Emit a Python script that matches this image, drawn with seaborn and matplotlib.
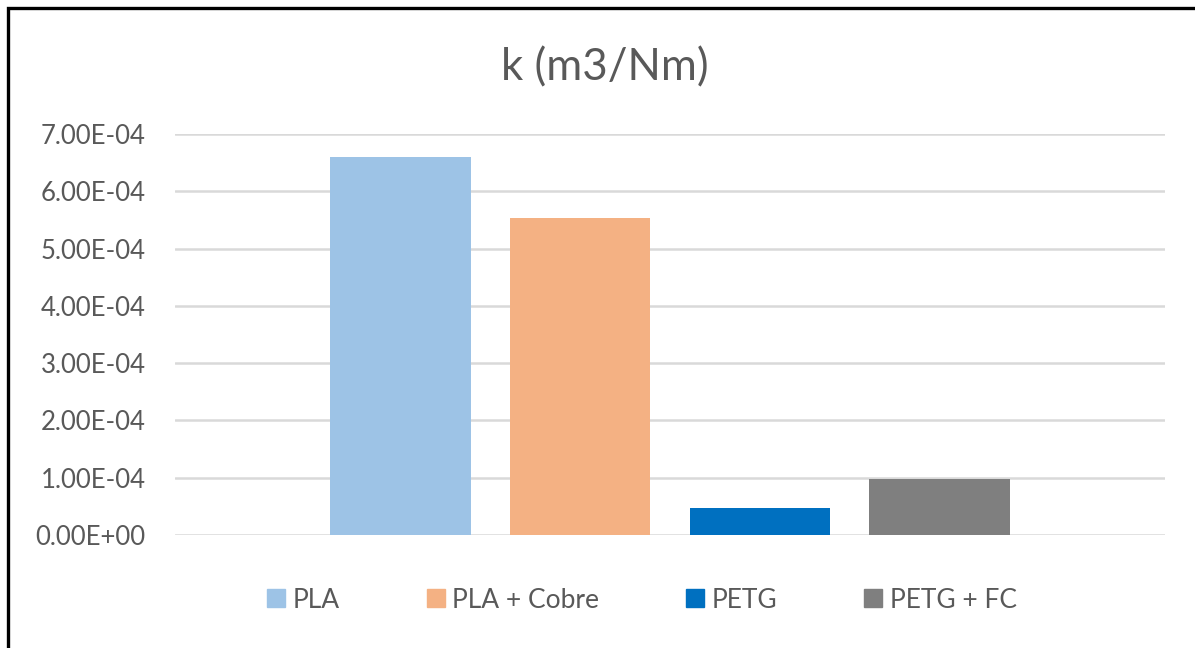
import matplotlib
matplotlib.use("Agg")
import matplotlib.pyplot as plt
from matplotlib.patches import Rectangle
from matplotlib.ticker import FuncFormatter, MultipleLocator
import seaborn as sns
import pandas as pd

# Wear coefficient per material
materials = ["PLA", "PLA + Cobre", "PETG", "PETG + FC"]
k_values = [6.60e-4, 5.53e-4, 0.47e-4, 0.98e-4]
colors = ["#9DC3E6", "#F4B183", "#0070C0", "#7F7F7F"]
title = "k (m3/Nm)"

df = pd.DataFrame({"grupo": ["k"] * len(materials), "material": materials, "k": k_values})

sns.set_theme(style="white")
plt.rcParams["font.family"] = ["Lato", "DejaVu Sans"]
text_color = "#595959"

fig = plt.figure(figsize=(11.95, 6.48), dpi=100)
ax = fig.add_axes([175 / 1195, 1 - 535 / 648, 990 / 1195, (535 - 134) / 648])

sns.barplot(data=df, x="grupo", y="k", hue="material", hue_order=materials,
            palette=colors, width=0.726, gap=0.22, saturation=1, ax=ax,
            legend=False, linewidth=0)

ax.set_xlim(-0.5, 0.5)
ax.set_ylim(0, 7e-4)
ax.yaxis.set_major_locator(MultipleLocator(1e-4))
ax.yaxis.set_major_formatter(FuncFormatter(lambda v, _: f"{v:.2E}"))
ax.set_xticks([])
ax.set_xlabel("")
ax.set_ylabel("")
ax.grid(axis="y", color="#D9D9D9", linewidth=1.8)
ax.set_axisbelow(True)
for s in ax.spines.values():
    s.set_visible(False)
ax.tick_params(axis="y", length=0, pad=21, labelsize=18.5, labelcolor=text_color)

fig.text(605 / 1195, 1 - 68 / 648, title, ha="center", va="center",
         fontsize=31.5, color=text_color)

handles = [Rectangle((0, 0), 1, 1, color=c) for c in colors]
leg = fig.legend(handles, materials, loc="center", bbox_to_anchor=(642 / 1195, 1 - 600 / 648),
                 ncol=4, frameon=False, fontsize=19, handlelength=0.68, handleheight=0.68,
                 handletextpad=0.28, columnspacing=3.3)
for t in leg.get_texts():
    t.set_color(text_color)

# Outer frame of the chart
fig.add_artist(Rectangle((7.5 / 1195, -0.2), 1.5, 1.2 - 7.5 / 648, transform=fig.transFigure,
                         fill=False, edgecolor="black", linewidth=2.4))

fig.savefig("out.png", dpi=100)
